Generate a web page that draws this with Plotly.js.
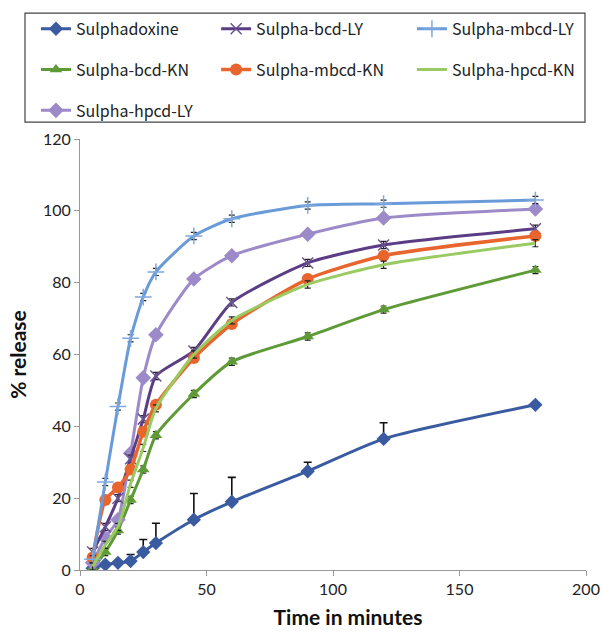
<!DOCTYPE html>
<html><head><meta charset="utf-8">
<script src="https://cdn.plot.ly/plotly-3.0.1.min.js"></script>
<style>html,body{margin:0;padding:0;background:#fff}#chart{width:603px;height:632px}</style>
</head><body><div id="chart"></div>
<script>
const time = [5, 10, 15, 20, 25, 30, 45, 60, 90, 120, 180];
const sulphadoxine = [0.5, 1.5, 2, 2.5, 5, 7.5, 14, 19, 27.5, 36.5, 46];
const sulphadoxineErr = [0, 0, 0, 1.8, 3.5, 5.5, 7.3, 6.8, 2.5, 4.5, 0];
const bcdLY = [5, 12, 20, 31, 42, 54, 61, 74.5, 85.5, 90.5, 95];
const mbcdLY = [3, 24.5, 45.5, 64.5, 76, 83, 93, 97.8, 101.5, 102, 103];
const bcdKN = [0.5, 5, 11, 19.5, 28, 37.5, 49, 58, 65, 72.5, 83.5];
const mbcdKN = [3.5, 19.5, 23, 28, 38.5, 46, 59, 68.5, 81, 87.5, 93];
const hpcdKN = [1, 7, 12, 24, 34, 45, 60, 69.5, 79.5, 85, 91];
const hpcdLY = [2, 9, 14, 32.5, 53.5, 65.5, 81, 87.5, 93.5, 98, 100.5];
const smallErr = [1, 1, 1, 1, 1, 1, 1, 1, 1, 1, 1];

function tr(name, y, color, marker, legend, group, err, w) {
  const t = {
    x: time, y: y, name: name, type: 'scatter', mode: marker ? 'lines+markers' : 'lines',
    line: {color: color, width: w || 3, shape: 'spline', smoothing: 0.6},
    legend: legend, legendgroup: group
  };
  if (marker) t.marker = marker;
  if (err) t.error_y = err;
  return t;
}
const blackErr = {type: 'data', array: smallErr, visible: true, color: '#222', thickness: 1.2, width: 3};
const data = [
  tr('Sulphadoxine', sulphadoxine, '#3A5BA0', {symbol: 'diamond', size: 11, color: '#3A5BA0'}, 'legend', 'a',
     {type: 'data', symmetric: false, array: sulphadoxineErr, arrayminus: time.map(() => 0), color: '#111', thickness: 1.6, width: 4}),
  tr('Sulpha-bcd-KN', bcdKN, '#5E9A35', {symbol: 'triangle-up', size: 11, color: '#5E9A35'}, 'legend', 'b', blackErr),
  tr('Sulpha-hpcd-LY', hpcdLY, '#9D8AC8', {symbol: 'diamond', size: 12, color: '#9D8AC8'}, 'legend', 'c'),
  tr('Sulpha-bcd-LY', bcdLY, '#5A3D85', {symbol: 'x-thin-open', size: 11, color: '#6B5590', line: {width: 1.5, color: '#6B5590'}}, 'legend2', 'd', blackErr),
  tr('Sulpha-mbcd-KN', mbcdKN, '#E8652E', {symbol: 'circle', size: 12, color: '#E8652E'}, 'legend2', 'e', null, 3.5),
  tr('Sulpha-mbcd-LY', mbcdLY, '#6A9BD9', {symbol: 'cross-thin-open', size: 12, color: '#7FA8DD', line: {width: 1.5, color: '#7FA8DD'}}, 'legend3', 'f', blackErr),
  tr('Sulpha-hpcd-KN', hpcdKN, '#9ACB62', null, 'legend3', 'g', blackErr)
];
const legFont = {family: 'Noto Sans CJK KR, Noto Sans, sans-serif', size: 16, color: '#222'};
function leg(x) {
  return {x: x, y: 1.295, xanchor: 'left', yanchor: 'top', orientation: 'v', bgcolor: 'rgba(0,0,0,0)',
    font: legFont, tracegroupgap: 17, traceorder: 'grouped', borderwidth: 0};
}
const layout = {
  width: 603, height: 632,
  margin: {l: 80, r: 17, t: 139, b: 62},
  paper_bgcolor: '#fff', plot_bgcolor: '#fff',
  font: {family: 'Lato, Liberation Sans, sans-serif', size: 16, color: '#333'},
  showlegend: true,
  legend: leg(-0.087),
  legend2: leg(0.269),
  legend3: leg(0.656),
  xaxis: {range: [0, 200], tickvals: [0, 50, 100, 150, 200], showgrid: false, zeroline: false,
    showline: true, linecolor: '#999', linewidth: 1, ticks: 'outside', ticklen: 5, tickcolor: '#999',
    tickfont: {size: 16, color: '#222'},
    title: {text: '<b>&nbsp;&nbsp;&nbsp;&nbsp;&nbsp;&nbsp;Time in minutes</b>', font: {size: 21, color: '#111'}, standoff: 13}},
  yaxis: {range: [0, 120], tickvals: [0, 20, 40, 60, 80, 100, 120], showgrid: false, zeroline: false,
    showline: true, linecolor: '#999', linewidth: 1, ticks: 'outside', ticklen: 5, tickcolor: '#999',
    tickfont: {size: 16, color: '#222'},
    title: {text: '<b>% release</b>', font: {size: 21, color: '#111'}, standoff: 10}},
  shapes: [{type: 'rect', xref: 'paper', yref: 'paper', x0: -0.1087, x1: 0.998, y0: 1.039, y1: 1.292, line: {color: '#444', width: 1.2}}]
};
Plotly.newPlot('chart', data, layout, {displayModeBar: false});
</script></body></html>
